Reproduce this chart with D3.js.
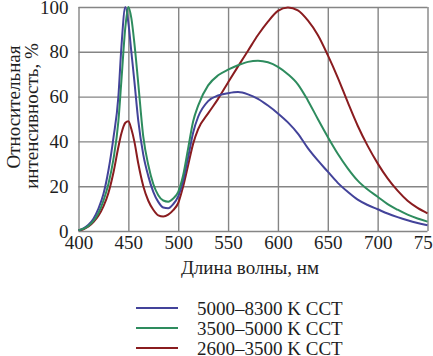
<!DOCTYPE html>
<html>
<head>
<meta charset="utf-8">
<script src="https://cdn.jsdelivr.net/npm/d3@7"></script>
<style>
  body { margin: 0; background: #fff; }
  svg { display: block; }
  text { font-family: "Liberation Serif", "Times New Roman", Times, serif; fill: #1e1e1e; }
</style>
</head>
<body>
<div class="canvas"></div>
<script>
const W = 433, H = 356;
const margin = {top: 7, right: 5.5, bottom: 125, left: 78.5};
const graphWidth = W - margin.left - margin.right;
const graphHeight = H - margin.top - margin.bottom;
const fontSize = 19;

// wavelength, nm
const wavelengths = [400, 405, 410, 415, 420, 425, 430, 435, 440,
  443, 447, 450, 453, 456,
  460, 465, 470, 475, 480, 485, 490, 495, 500, 505, 510, 515, 520,
  530, 540, 550, 560, 570, 580, 590, 600, 610, 620, 630, 640, 650,
  660, 670, 680, 690, 700, 710, 720, 730, 740, 750];

// relative intensity, %
const cool = [0.3, 1.2, 2.8, 5.5, 10, 16.5, 27, 41.5, 60,
  82, 100, 93, 80, 67,
  49, 34, 24.5, 17.5, 13, 10.5, 10.2, 12, 15.5, 22.5, 33, 44, 51,
  58, 60.5, 61.5, 62, 61, 59, 56, 52.5, 48.5, 43.5, 37, 31.5, 26.5,
  21.5, 17.5, 14, 11.6, 9.7, 7.8, 6.2, 4.8, 3.6, 2.6];
const neutral = [0.3, 1, 2.3, 4.5, 8, 13.5, 21, 32, 49,
  67, 91, 100, 95, 84,
  65.5, 42, 29.5, 21, 16, 13.6, 13.1, 14.5, 17.5, 25, 37, 49, 56,
  65, 69.5, 72, 74, 75.5, 76, 75.3, 73.3, 70, 65.5, 58.3, 50, 42,
  34.5, 28, 22.5, 18.5, 15.3, 12, 9.5, 7.3, 5.6, 4.2];
const warm = [0.3, 0.8, 2, 4, 6.8, 11, 17, 26, 37.5,
  43.5, 48.3, 49, 45.5, 40,
  30, 20, 13.5, 9.5, 7, 6.5, 7.3, 9.3, 12.5, 20, 29.5, 39, 45.5,
  52.5, 59, 66.3, 73.5, 80.5, 87.5, 93.5, 98.3, 99.8, 98.5, 94, 87.5, 78.5,
  68.5, 57.5, 47, 38, 30.2, 23.5, 18, 13.5, 10.3, 7.9];

const seriesNames = ["5000–8300 K CCT", "3500–5000 K CCT", "2600–3500 K CCT"];
const seriesColours = ["#43439a", "#2e8c5e", "#8a1c1f"];
const xTicks = [400, 450, 500, 550, 600, 650, 700, 750];
const yTicks = [0, 20, 40, 60, 80, 100];

const svg = d3.select('.canvas')
  .append('svg')
  .attr('width', W)
  .attr('height', H);

svg.append('rect').attr('width', W).attr('height', H).attr('fill', '#fff');

const graph = svg.append('g')
  .attr('transform', `translate(${margin.left}, ${margin.top})`);

const x = d3.scaleLinear().domain([400, 750]).range([0, graphWidth]);
const y = d3.scaleLinear().domain([0, 100]).range([graphHeight, 0]);

const xAxis = d3.axisBottom(x).tickValues(xTicks).tickSize(-graphHeight).tickPadding(5);
const yAxis = d3.axisLeft(y).tickValues(yTicks).tickSize(-graphWidth).tickPadding(10);

const xAxisGroup = graph.append('g')
  .attr('transform', `translate(0, ${graphHeight})`)
  .call(xAxis);
const yAxisGroup = graph.append('g').call(yAxis);

[xAxisGroup, yAxisGroup].forEach(g => {
  g.attr('font-family', null);
  g.select('.domain').remove();
  g.selectAll('line').attr('stroke', '#858585').attr('stroke-width', 1.4);
  g.selectAll('text').attr('font-size', fontSize).attr('fill', '#1e1e1e');
});

const line = d3.line()
  .x(d => x(d[0]))
  .y(d => y(d[1]))
  .curve(d3.curveMonotoneX);

// draw order: warm, cool, neutral
const series = [[warm, 2], [cool, 0], [neutral, 1]];
series.forEach(([vals, c]) => {
  graph.append('path')
    .datum(wavelengths.map((w, j) => [w, vals[j]]))
    .attr('fill', 'none')
    .attr('stroke', seriesColours[c])
    .attr('stroke-width', 2)
    .attr('d', line);
});

// axis titles
svg.append('text')
  .attr('x', margin.left + graphWidth / 2 - 3)
  .attr('y', 274)
  .attr('text-anchor', 'middle')
  .attr('font-size', fontSize)
  .text('Длина волны, нм');

svg.append('text')
  .attr('transform', 'translate(20, 107) rotate(-90)')
  .attr('text-anchor', 'middle')
  .attr('font-size', fontSize)
  .text('Относительная');
svg.append('text')
  .attr('transform', 'translate(38, 116) rotate(-90)')
  .attr('text-anchor', 'middle')
  .attr('font-size', fontSize)
  .text('интенсивность, %');

// legend
const legend = svg.append('g').attr('transform', 'translate(136, 308)');
seriesNames.forEach((name, i) => {
  const row = legend.append('g').attr('transform', `translate(0, ${i * 20})`);
  row.append('line')
    .attr('x1', 0).attr('x2', 42)
    .attr('stroke', seriesColours[i])
    .attr('stroke-width', 2);
  row.append('text')
    .attr('x', 61)
    .attr('y', 6.5)
    .attr('font-size', fontSize)
    .text(name);
});
</script>
</body>
</html>
